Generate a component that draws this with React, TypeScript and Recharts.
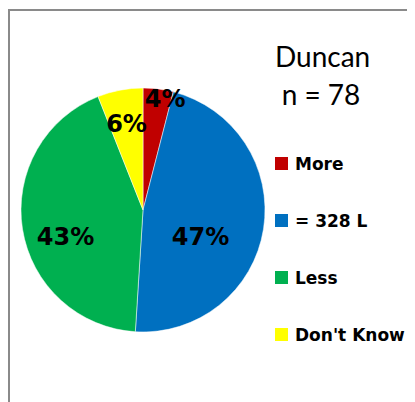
import React from "react";
import { PieChart, Pie, Cell, Legend } from "recharts";

const categories = ["More", "= 328 L", "Less", "Don't Know"];
const values = [4, 47, 43, 6];
const colors = ["#C00000", "#0070C0", "#00B050", "#FFFF00"];
const titleLines = ["Duncan", "n = 78"];

const data = categories.map((name, i) => ({ name, value: values[i] }));

const RAD = Math.PI / 180;

const renderLabel = (props: any) => {
  const { cx, cy, midAngle, outerRadius, percent } = props;
  const big = percent > 0.1;
  const f = percent < 0.05 ? 0.92 : percent < 0.1 ? 0.72 : 0.56;
  const r = outerRadius * f;
  const x = cx + r * Math.cos(-midAngle * RAD) + (percent < 0.05 ? 8 : big ? -10 : 0);
  const y = cy + r * Math.sin(-midAngle * RAD) + (big ? 16 : 0);
  return (
    <text
      x={x}
      y={y}
      textAnchor="middle"
      dominantBaseline="central"
      fontFamily="DejaVu Sans"
      fontWeight="bold"
      fontSize={24}
      fill="#000"
    >
      {`${Math.round(percent * 100)}%`}
    </text>
  );
};

const LegendContent = () => {
  return (
    <div>
      <div
        style={{
          textAlign: "center",
          width: 92,
          fontFamily: "Lato",
          fontSize: 28,
          lineHeight: "38px",
          color: "#000",
        }}
      >
        {titleLines.map((t) => (
          <div key={t}>{t}</div>
        ))}
      </div>
      <div style={{ marginTop: 22 }}>
        {categories.map((c, i) => (
          <div
            key={c}
            style={{
              display: "flex",
              alignItems: "center",
              height: 57,
              fontFamily: "DejaVu Sans",
              fontWeight: "bold",
              fontSize: 17,
              color: "#000",
              whiteSpace: "nowrap",
            }}
          >
            <span
              style={{
                display: "inline-block",
                width: 13,
                height: 13,
                background: colors[i],
                marginRight: 7,
                flexShrink: 0,
              }}
            />
            {c}
          </div>
        ))}
      </div>
    </div>
  );
};

export default function App() {
  return (
    <div style={{ width: 407, height: 394, overflow: "hidden", position: "relative" }}>
      <div
        style={{
          position: "absolute",
          left: 0,
          top: 1,
          width: 430,
          height: 420,
          border: "2px solid #8a8a8a",
          boxSizing: "border-box",
        }}
      />
      <div style={{ position: "absolute", left: 0, top: 0 }}>
        <PieChart width={407} height={394} margin={{ top: 0, right: 0, bottom: 0, left: 0 }}>
          <Pie
            data={data}
            dataKey="value"
            nameKey="name"
            cx={135}
            cy={202}
            outerRadius={122}
            startAngle={90}
            endAngle={-270}
            stroke="#ffffff"
            strokeWidth={0.5}
            label={renderLabel}
            labelLine={false}
            isAnimationActive={false}
          >
            {data.map((d, i) => (
              <Cell key={d.name} fill={colors[i]} />
            ))}
          </Pie>
          <Legend
            content={<LegendContent />}
            layout="vertical"
            wrapperStyle={{ position: "absolute", left: 267, top: 29, width: 145 }}
          />
        </PieChart>
      </div>
    </div>
  );
}
